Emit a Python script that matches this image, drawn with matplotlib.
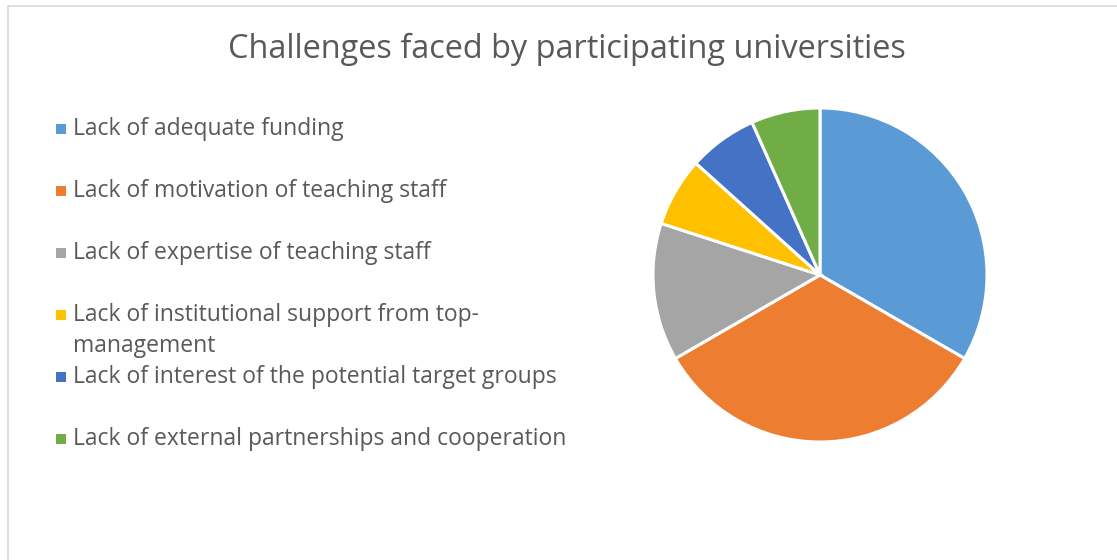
import matplotlib.pyplot as plt
from matplotlib.patches import Rectangle

# Data
labels = [
    "Lack of adequate funding",
    "Lack of motivation of teaching staff",
    "Lack of expertise of teaching staff",
    "Lack of institutional support from top-\nmanagement",
    "Lack of interest of the potential target groups",
    "Lack of external partnerships and cooperation",
]
values = [5, 5, 2, 1, 1, 1]
colors = ["#5B9BD5", "#ED7D31", "#A5A5A5", "#FFC000", "#4472C4", "#70AD47"]

plt.rcParams["font.family"] = ["Open Sans", "DejaVu Sans"]
text_color = "#595959"

W, H = 1117, 560
fig = plt.figure(figsize=(W / 100, H / 100), dpi=100)

# Chart border
fig.patches.append(Rectangle((8 / W, -0.1), 1.2, 1 - 6 / H + 0.1,
                             transform=fig.transFigure, fill=False,
                             edgecolor="#D9D9D9", linewidth=1.2))

# Title
fig.text(567 / W, 1 - 49 / H, "Challenges faced by participating universities",
         ha="center", va="center", fontsize=23.4, color=text_color)

# Pie
cx, cy, r = 820, 275, 167
ax = fig.add_axes([(cx - r) / W, (H - cy - r) / H, 2 * r / W, 2 * r / H])
ax.pie(values, colors=colors, startangle=90, counterclock=False,
       wedgeprops=dict(edgecolor="white", linewidth=2.2))
ax.set_xlim(-1, 1)
ax.set_ylim(-1, 1)
ax.set_aspect("equal")
ax.axis("off")

# Legend
fs = 16.5
y0, step = 129, 62
for i, (lab, col) in enumerate(zip(labels, colors)):
    y = y0 + i * step
    fig.patches.append(Rectangle((56 / W, 1 - (y + 5) / H), 10 / W, 10 / H,
                                 transform=fig.transFigure, facecolor=col,
                                 edgecolor="none"))
    for j, line in enumerate(lab.split("\n")):
        fig.text(73 / W, 1 - (y + 31 * j) / H, line, ha="left", va="center",
                 fontsize=fs, color=text_color)

fig.savefig("out.png", dpi=100)
